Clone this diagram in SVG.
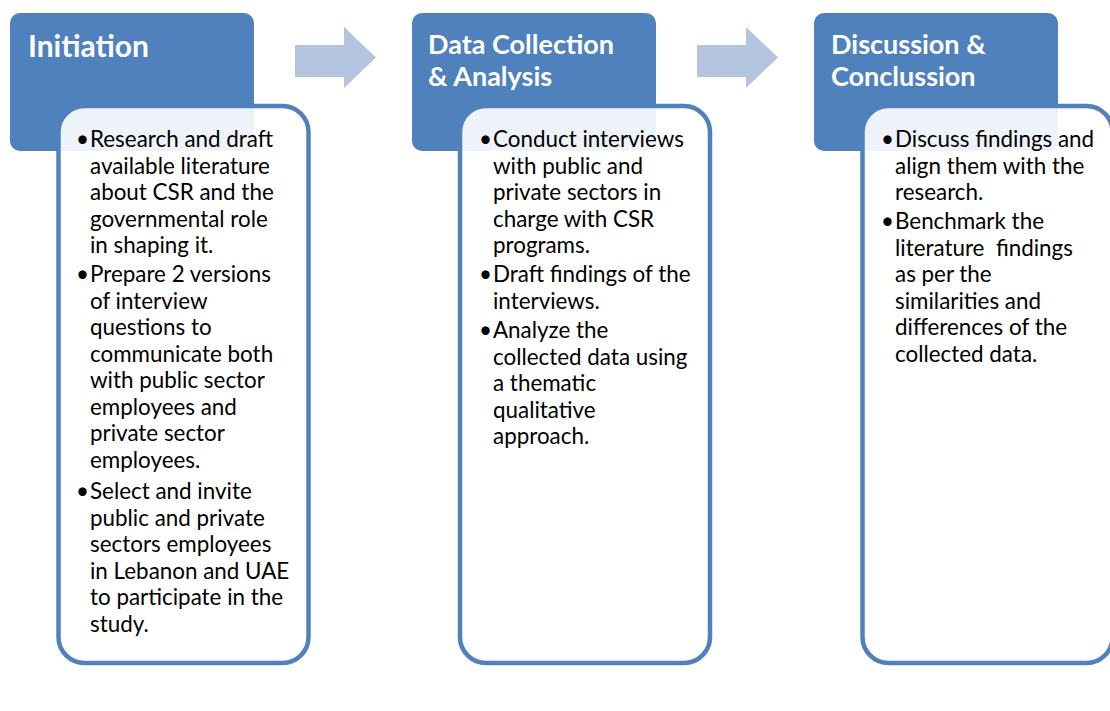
<svg xmlns="http://www.w3.org/2000/svg" width="1110" height="711" viewBox="0 0 1110 711">
  <style>
    .hdr { fill: #4F81BD; }
    .card { fill: #FFFFFF; fill-opacity: 0.9; stroke: #4F81BD; stroke-width: 4.5; }
    .arrow { fill: #B3C4DF; }
    .title { font-family: Lato, "Liberation Sans", sans-serif; font-weight: bold; fill: #FFFFFF; }
    .body { font-family: Lato, "Liberation Sans", sans-serif; font-size: 22.4px; fill: #000000; white-space: pre; }
    .dot { font-family: Lato, "Liberation Sans", sans-serif; font-size: 22.4px; fill: #000000; text-anchor: end; }
  </style>

  <rect width="1110" height="711" fill="#FFFFFF"/>

  <!-- process arrows between stages -->
  <g id="connectors">
    <polygon class="arrow" points="295,45 344,45 344,27 376,57.5 344,88 344,77 295,77"/>
    <polygon class="arrow" points="697,45 746,45 746,27 778,57.5 746,88 746,77 697,77"/>
  </g>

  <!-- stage 1 -->
  <g id="initiation">
    <rect class="hdr" x="10" y="13" width="244" height="138" rx="10"/>
    <text class="title" x="28" y="57" font-size="30px">Initiation</text>
    <rect class="card" x="58.5" y="106" width="250" height="557" rx="26"/>
    <text class="dot" x="89" y="147">•</text>
    <text class="dot" x="89" y="282">•</text>
    <text class="dot" x="89" y="499">•</text>
    <text class="body">
      <tspan x="90" y="147">Research and draft</tspan>
      <tspan x="90" y="173.5">available literature</tspan>
      <tspan x="90" y="200">about CSR and the</tspan>
      <tspan x="90" y="226.5">governmental role</tspan>
      <tspan x="90" y="253">in shaping it.</tspan>
      <tspan x="90" y="282">Prepare 2 versions</tspan>
      <tspan x="90" y="308.5">of interview</tspan>
      <tspan x="90" y="335">questions to</tspan>
      <tspan x="90" y="361.5">communicate both</tspan>
      <tspan x="90" y="388">with public sector</tspan>
      <tspan x="90" y="414.5">employees and</tspan>
      <tspan x="90" y="441">private sector</tspan>
      <tspan x="90" y="467.5">employees.</tspan>
      <tspan x="90" y="499">Select and invite</tspan>
      <tspan x="90" y="525.5">public and private</tspan>
      <tspan x="90" y="552">sectors employees</tspan>
      <tspan x="90" y="578.5">in Lebanon and UAE</tspan>
      <tspan x="90" y="605">to participate in the</tspan>
      <tspan x="90" y="631.5">study.</tspan>
    </text>
  </g>

  <!-- stage 2 -->
  <g id="data-collection">
    <rect class="hdr" x="412" y="13" width="244" height="138" rx="10"/>
    <text class="title" font-size="27px">
      <tspan x="428" y="54">Data Collection</tspan>
      <tspan x="428" y="86">&amp; Analysis</tspan>
    </text>
    <rect class="card" x="460" y="106" width="250" height="557" rx="26"/>
    <text class="dot" x="492" y="147">•</text>
    <text class="dot" x="492" y="282">•</text>
    <text class="dot" x="492" y="338">•</text>
    <text class="body">
      <tspan x="493" y="147">Conduct interviews</tspan>
      <tspan x="493" y="173.5">with public and</tspan>
      <tspan x="493" y="200">private sectors in</tspan>
      <tspan x="493" y="226.5">charge with CSR</tspan>
      <tspan x="493" y="253">programs.</tspan>
      <tspan x="493" y="282">Draft findings of the</tspan>
      <tspan x="493" y="308.5">interviews.</tspan>
      <tspan x="493" y="338">Analyze the</tspan>
      <tspan x="493" y="364.5">collected data using</tspan>
      <tspan x="493" y="391">a thematic</tspan>
      <tspan x="493" y="417.5">qualitative</tspan>
      <tspan x="493" y="444">approach.</tspan>
    </text>
  </g>

  <!-- stage 3 -->
  <g id="discussion">
    <rect class="hdr" x="814" y="13" width="244" height="138" rx="10"/>
    <text class="title" font-size="27px">
      <tspan x="831" y="54">Discussion &amp;</tspan>
      <tspan x="831" y="86">Conclussion</tspan>
    </text>
    <rect class="card" x="862.5" y="106" width="250" height="557" rx="26"/>
    <text class="dot" x="894" y="147">•</text>
    <text class="dot" x="894" y="229">•</text>
    <text class="body">
      <tspan x="895" y="147">Discuss findings and</tspan>
      <tspan x="895" y="173.5">align them with the</tspan>
      <tspan x="895" y="200">research.</tspan>
      <tspan x="895" y="229">Benchmark the</tspan>
      <tspan x="895" y="255.5">literature  findings</tspan>
      <tspan x="895" y="282">as per the</tspan>
      <tspan x="895" y="308.5">similarities and</tspan>
      <tspan x="895" y="335">differences of the</tspan>
      <tspan x="895" y="361.5">collected data.</tspan>
    </text>
  </g>
</svg>
